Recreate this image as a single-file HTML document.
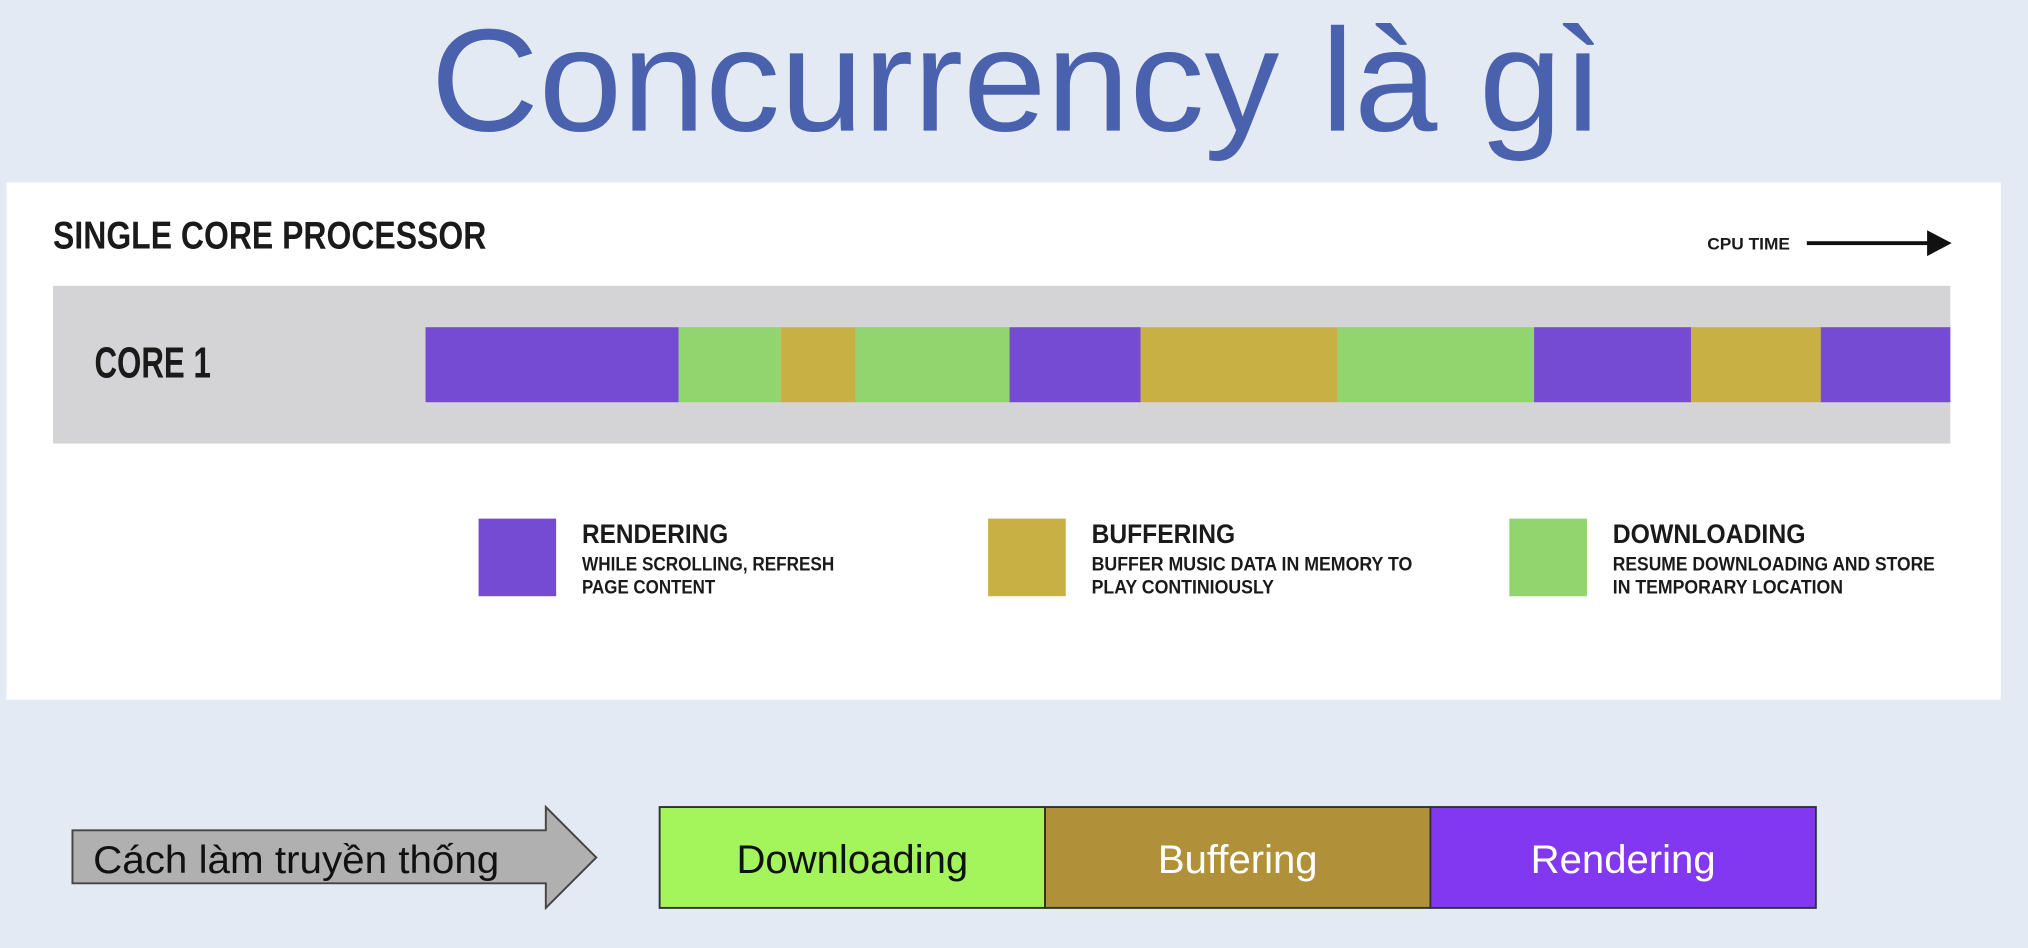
<!DOCTYPE html>
<html><head><meta charset="utf-8"><style>
html,body{margin:0;padding:0;background:#e4eaf4;overflow:hidden}
svg{display:block}
text{font-family:"Liberation Sans",sans-serif}
</style></head><body>
<svg id="s" width="2028" height="948" viewBox="0 0 1568 733" xmlns="http://www.w3.org/2000/svg">
<rect x="0" y="0" width="1568" height="733" fill="#e4eaf4"/>
<text x="333" y="101" font-size="113" fill="#4a62ad" textLength="907" lengthAdjust="spacingAndGlyphs">Concurrency là gì</text>
<rect x="5" y="141" width="1542" height="400" fill="#ffffff"/>
<text x="41" y="192" font-size="30" font-weight="bold" fill="#1a1a1a" textLength="335" lengthAdjust="spacingAndGlyphs">SINGLE CORE PROCESSOR</text>
<text x="1320" y="193" font-size="13" font-weight="bold" fill="#1a1a1a" textLength="64" lengthAdjust="spacingAndGlyphs">CPU TIME</text>
<g>
<rect x="1397" y="186.5" width="95" height="3" fill="#111"/>
<polygon points="1490,178 1509,188 1490,198" fill="#111"/>
</g>
<rect x="41" y="221" width="1467" height="122" fill="#d4d4d6"/>
<text x="73" y="292" font-size="34" font-weight="bold" fill="#1a1a1a" textLength="90" lengthAdjust="spacingAndGlyphs">CORE 1</text>
<g id="timeline"></g>

<g>
<rect x="370" y="401" width="60" height="60" fill="#754bd4"/>
<text x="450" y="420" font-size="21" font-weight="bold" fill="#1a1a1a" textLength="113" lengthAdjust="spacingAndGlyphs">RENDERING</text>
<text x="450" y="441" font-size="15" font-weight="bold" fill="#1a1a1a" textLength="195" lengthAdjust="spacingAndGlyphs">WHILE SCROLLING, REFRESH</text>
<text x="450" y="459" font-size="15" font-weight="bold" fill="#1a1a1a" textLength="103" lengthAdjust="spacingAndGlyphs">PAGE CONTENT</text>
<rect x="764" y="401" width="60" height="60" fill="#c8b044"/>
<text x="844" y="420" font-size="21" font-weight="bold" fill="#1a1a1a" textLength="111" lengthAdjust="spacingAndGlyphs">BUFFERING</text>
<text x="844" y="441" font-size="15" font-weight="bold" fill="#1a1a1a" textLength="248" lengthAdjust="spacingAndGlyphs">BUFFER MUSIC DATA IN MEMORY TO</text>
<text x="844" y="459" font-size="15" font-weight="bold" fill="#1a1a1a" textLength="141" lengthAdjust="spacingAndGlyphs">PLAY CONTINIOUSLY</text>
<rect x="1167" y="401" width="60" height="60" fill="#92d46e"/>
<text x="1247" y="420" font-size="21" font-weight="bold" fill="#1a1a1a" textLength="149" lengthAdjust="spacingAndGlyphs">DOWNLOADING</text>
<text x="1247" y="441" font-size="15" font-weight="bold" fill="#1a1a1a" textLength="249" lengthAdjust="spacingAndGlyphs">RESUME DOWNLOADING AND STORE</text>
<text x="1247" y="459" font-size="15" font-weight="bold" fill="#1a1a1a" textLength="178" lengthAdjust="spacingAndGlyphs">IN TEMPORARY LOCATION</text>
</g>

<polygon points="56,642 422,642 422,624 461,663 422,702 422,683 56,683" fill="#b0b0b0" stroke="#444" stroke-width="1.5"/>
<text x="72" y="675" font-size="30" fill="#111" textLength="314" lengthAdjust="spacingAndGlyphs">Cách làm truyền thống</text>
<g id="seq"></g>
</svg>
<script>
// Core 1 timeline: segment tasks and end-times (in CPU-time units, 0..100)
const segTasks = ["R","D","B","D","R","B","D","R","B","R"];
const segEnds = [16.6,23.3,28.2,38.3,46.9,59.8,72.7,83.0,91.5,100];
// Sequential (traditional) steps
const seqLabels = ["Downloading","Buffering","Rendering"];
const seqDurations = [1,1,1];

const NS="http://www.w3.org/2000/svg";
const colors={R:"#754bd4",B:"#c8b044",D:"#92d46e"};
const taskNames={R:"rendering",B:"buffering",D:"downloading"};
const x0=329,x1=1508;
function xScale(v){return x0+(x1-x0)*v/100;}
const tl=document.getElementById('timeline');
let prev=0;
segTasks.forEach((t,i)=>{
  const r=document.createElementNS(NS,'rect');
  r.setAttribute('x',xScale(prev));r.setAttribute('y',253);
  r.setAttribute('width',xScale(segEnds[i])-xScale(prev));r.setAttribute('height',58);
  r.setAttribute('fill',colors[t]);
  
  
  tl.appendChild(r);prev=segEnds[i];
});
const sx0=510,sx1=1404;
const total=seqDurations.reduce((a,b)=>a+b,0);
const seqFill=["#a3f55b","#b0913a","#8238f0"];
const seqText=["#111","#fff","#fff"];
const sq=document.getElementById('seq');
let acc=0;
seqLabels.forEach((l,i)=>{
  const xa=sx0+(sx1-sx0)*acc/total, xb=sx0+(sx1-sx0)*(acc+seqDurations[i])/total;
  const r=document.createElementNS(NS,'rect');
  r.setAttribute('x',xa);r.setAttribute('y',624);r.setAttribute('width',xb-xa);r.setAttribute('height',78);
  r.setAttribute('fill',seqFill[i]);r.setAttribute('stroke','#333');r.setAttribute('stroke-width','1.5');
  
  
  sq.appendChild(r);
  const tx=document.createElementNS(NS,'text');
  tx.setAttribute('x',(xa+xb)/2);tx.setAttribute('y',675);tx.setAttribute('text-anchor','middle');
  tx.setAttribute('font-size','31');tx.setAttribute('fill',seqText[i]);
  tx.textContent=l;
  
  
  sq.appendChild(tx);
  acc+=seqDurations[i];
});
</script>
</body></html>
